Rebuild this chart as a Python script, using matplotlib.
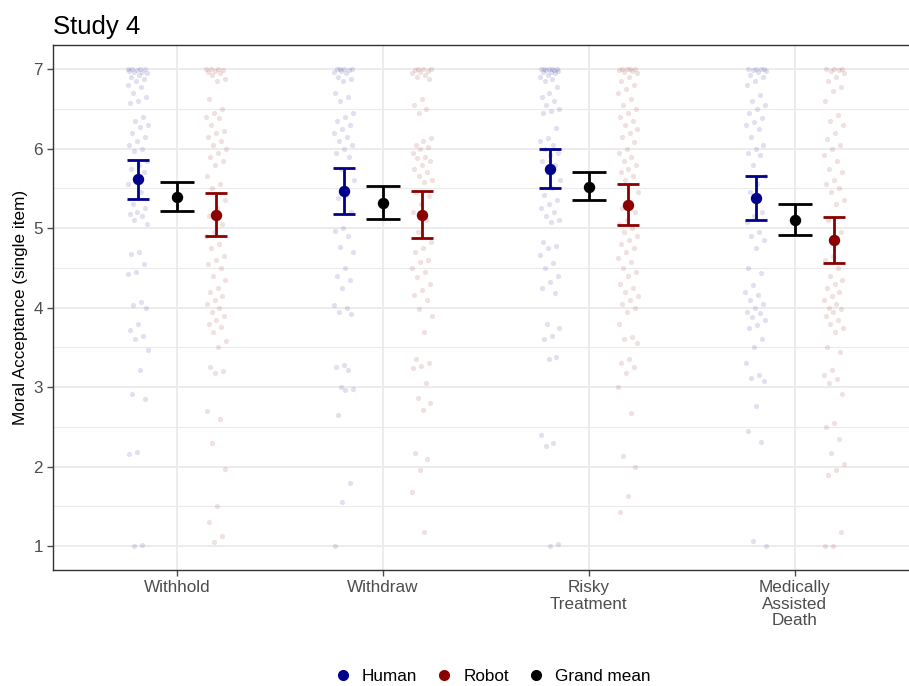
import matplotlib.pyplot as plt
import numpy as np

plt.rcParams['font.family'] = ['Liberation Sans', 'DejaVu Sans']

categories = ['Withhold', 'Withdraw', 'Risky\nTreatment', 'Medically\nAssisted\nDeath']

# individual responses
human_pts = [
    [7.0, 7.0, 7.0, 7.0, 6.99, 6.98, 6.97, 6.96, 6.95, 6.93, 6.9, 6.88, 6.85, 6.8, 6.78, 6.7, 6.65, 6.6,
     6.57, 6.4, 6.35, 6.3, 6.27, 6.2, 6.15, 6.1, 6.05, 6.0, 5.97, 5.85, 5.8, 5.75, 5.7, 5.6, 5.55, 5.45,
     5.3, 5.25, 5.2, 5.18, 5.15, 5.1, 5.05, 4.7, 4.68, 4.55, 4.45, 4.42, 4.07, 4.03, 4.0, 3.8, 3.72,
     3.65, 3.6, 3.47, 3.21, 2.92, 2.85, 2.18, 2.16, 1.02, 1.0],
    [7.0, 7.0, 7.0, 7.0, 6.99, 6.98, 6.97, 6.95, 6.9, 6.87, 6.85, 6.7, 6.65, 6.6, 6.45, 6.4, 6.35, 6.3,
     6.25, 6.2, 6.15, 6.1, 6.05, 6.0, 5.95, 5.9, 5.75, 5.6, 5.42, 5.38, 5.2, 5.0, 4.97, 4.9, 4.76, 4.7,
     4.5, 4.4, 4.35, 4.25, 4.03, 4.0, 3.95, 3.92, 3.28, 3.25, 3.22, 3.0, 2.98, 2.97, 2.65, 1.8, 1.55, 1.0],
    [7.0, 7.0, 7.0, 7.0, 7.0, 6.99, 6.99, 6.98, 6.97, 6.96, 6.95, 6.93, 6.9, 6.88, 6.85, 6.77, 6.7, 6.65,
     6.6, 6.55, 6.5, 6.47, 6.45, 6.26, 6.13, 6.1, 6.05, 6.0, 5.95, 5.92, 5.85, 5.8, 5.7, 5.6, 5.5, 5.42,
     5.35, 5.3, 5.25, 5.2, 5.15, 5.1, 5.08, 4.82, 4.78, 4.75, 4.66, 4.56, 4.5, 4.4, 4.32, 4.25, 4.18,
     3.8, 3.75, 3.65, 3.6, 3.38, 3.35, 2.4, 2.3, 2.26, 1.03, 1.0],
    [7.0, 7.0, 7.0, 7.0, 6.99, 6.98, 6.96, 6.93, 6.9, 6.85, 6.8, 6.67, 6.6, 6.55, 6.5, 6.45, 6.38, 6.33,
     6.3, 6.25, 6.15, 6.05, 6.0, 5.95, 5.92, 5.8, 5.65, 5.55, 5.45, 5.2, 5.15, 5.08, 4.95, 4.9, 4.85,
     4.75, 4.5, 4.44, 4.28, 4.2, 4.16, 4.1, 4.05, 4.0, 3.95, 3.93, 3.88, 3.85, 3.78, 3.74, 3.6, 3.5, 3.3,
     3.15, 3.12, 3.08, 2.76, 2.45, 2.31, 1.06, 1.0],
]
robot_pts = [
    [7.0, 7.0, 7.0, 6.99, 6.98, 6.96, 6.95, 6.92, 6.88, 6.85, 6.63, 6.5, 6.45, 6.4, 6.38, 6.3, 6.22, 6.2,
     6.15, 6.1, 6.05, 6.0, 5.95, 5.9, 5.85, 5.8, 5.65, 5.55, 5.5, 5.35, 5.25, 5.15, 5.05, 4.95, 4.9, 4.8,
     4.75, 4.65, 4.6, 4.55, 4.5, 4.4, 4.35, 4.25, 4.2, 4.15, 4.1, 4.05, 4.0, 3.95, 3.9, 3.85, 3.8, 3.76,
     3.7, 3.58, 3.5, 3.25, 3.2, 3.18, 2.7, 2.6, 2.3, 1.97, 1.5, 1.3, 1.13, 1.05],
    [7.0, 7.0, 7.0, 6.99, 6.98, 6.97, 6.95, 6.93, 6.9, 6.88, 6.63, 6.55, 6.5, 6.45, 6.13, 6.1, 6.05, 6.02,
     6.0, 5.95, 5.9, 5.88, 5.85, 5.8, 5.75, 5.7, 5.65, 5.6, 5.58, 5.45, 5.4, 5.3, 5.2, 5.1, 4.95, 4.82,
     4.75, 4.7, 4.6, 4.57, 4.5, 4.45, 4.38, 4.3, 4.22, 4.16, 4.1, 3.98, 3.9, 3.7, 3.36, 3.3, 3.27, 3.24,
     3.05, 2.86, 2.8, 2.71, 2.17, 2.1, 1.96, 1.68, 1.18],
    [7.0, 7.0, 7.0, 7.0, 6.99, 6.98, 6.96, 6.95, 6.9, 6.85, 6.8, 6.75, 6.7, 6.62, 6.55, 6.5, 6.45, 6.4,
     6.35, 6.3, 6.25, 6.2, 6.15, 6.08, 6.0, 5.95, 5.9, 5.85, 5.8, 5.75, 5.7, 5.65, 5.6, 5.45, 5.33, 5.25,
     5.2, 5.1, 5.05, 5.0, 4.95, 4.9, 4.85, 4.8, 4.75, 4.7, 4.62, 4.57, 4.5, 4.45, 4.4, 4.3, 4.25, 4.2,
     4.15, 4.1, 4.05, 4.0, 3.95, 3.8, 3.63, 3.6, 3.55, 3.36, 3.3, 3.25, 3.18, 3.0, 2.67, 2.13, 2.0,
     1.63, 1.43],
    [7.0, 7.0, 7.0, 6.99, 6.98, 6.95, 6.9, 6.85, 6.78, 6.72, 6.6, 6.42, 6.35, 6.3, 6.2, 6.12, 6.05, 6.0,
     5.92, 5.85, 5.75, 5.7, 5.6, 5.55, 5.5, 5.45, 5.35, 5.3, 5.1, 4.95, 4.65, 4.6, 4.5, 4.4, 4.35, 4.3,
     4.25, 4.2, 4.15, 4.1, 4.05, 4.0, 3.98, 3.95, 3.9, 3.85, 3.8, 3.75, 3.7, 3.5, 3.44, 3.21, 3.15, 3.1,
     3.05, 2.92, 2.55, 2.5, 2.35, 2.17, 2.04, 1.96, 1.9, 1.18, 1.0, 1.0],
]

# means and confidence intervals
human_mean = [5.62, 5.47, 5.75, 5.38]
human_lo = [5.37, 5.18, 5.51, 5.10]
human_hi = [5.86, 5.76, 6.00, 5.65]
robot_mean = [5.17, 5.17, 5.29, 4.85]
robot_lo = [4.90, 4.87, 5.04, 4.56]
robot_hi = [5.44, 5.47, 5.55, 5.14]
grand_mean = [5.39, 5.32, 5.52, 5.10]
grand_lo = [5.21, 5.11, 5.35, 4.91]
grand_hi = [5.58, 5.53, 5.70, 5.30]

blue = '#00008B'
red = '#8B0000'

fig = plt.figure(figsize=(9.09, 6.86), dpi=100)
# panel runs past the right edge of the image, as in the original crop
ax = fig.add_axes([0.0587, 0.169, 0.9516, 0.765])

x = np.arange(1, len(categories) + 1)
dodge = 0.19

# jittered raw points
for i in range(len(categories)):
    for pts, off, col in [(human_pts[i], -dodge, blue), (robot_pts[i], dodge, red)]:
        n = len(pts)
        jit = ((np.arange(n) * 0.6180339 + 0.3 * i) % 1 - 0.5) * 0.1
        ax.scatter(x[i] + off + jit, pts, s=14, color=col, alpha=0.12, linewidths=0, zorder=2)

# error bars + means
for means, lo, hi, off, col, cap in [(human_mean, human_lo, human_hi, -dodge, blue, 7.6),
                                     (grand_mean, grand_lo, grand_hi, 0, 'black', 11.9),
                                     (robot_mean, robot_lo, robot_hi, dodge, red, 7.6)]:
    m = np.array(means)
    err = [m - np.array(lo), np.array(hi) - m]
    ax.errorbar(x + off, m, yerr=err, fmt='o', color=col, ms=7.2, elinewidth=2.0,
                capsize=cap, capthick=2.0, zorder=3)

ax.set_xlim(0.4, 4.6)
ax.set_ylim(0.7, 7.3)
ax.set_xticks(x)
ax.set_xticklabels(categories, linespacing=1.1)
ax.set_yticks([1, 2, 3, 4, 5, 6, 7])
ax.set_yticks(np.arange(1.5, 7, 1), minor=True)
ax.set_xticks([], minor=True)
ax.tick_params(axis='both', which='major', labelsize=12.3, colors='#4D4D4D', length=4, width=1,
               labelcolor='#4D4D4D')
ax.tick_params(axis='y', which='minor', length=0)
ax.grid(True, which='major', color='#EBEBEB', linewidth=1.3, zorder=0)
ax.grid(True, which='minor', axis='y', color='#EBEBEB', linewidth=0.8, zorder=0)
ax.set_axisbelow(True)
for s in ax.spines.values():
    s.set_color('#333333')
    s.set_linewidth(1)

ax.set_ylabel('Moral Acceptance (single item)', fontsize=12.3, labelpad=4)
ax.set_title('Study 4', loc='left', fontsize=18.5, pad=8)

# legend
handles = [plt.Line2D([], [], marker='o', ls='', color=c, ms=7) for c in [blue, red, 'black']]
fig.legend(handles, ['Human', 'Robot', 'Grand mean'], loc='lower center', ncol=3,
           bbox_to_anchor=(0.537, -0.02), frameon=False, fontsize=12.3,
           handletextpad=0.1, columnspacing=0.6)

fig.savefig('out.png', dpi=100)
